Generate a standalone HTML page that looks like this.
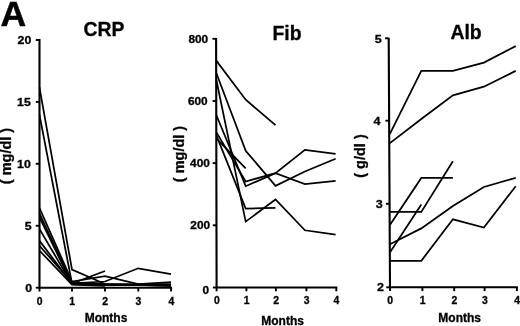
<!DOCTYPE html>
<html lang="en">
<head>
<meta charset="utf-8">
<title>Figure A: CRP, Fib, Alb over months</title>
<style>
html,body{margin:0;padding:0;background:#fff;}
body{width:520px;height:326px;overflow:hidden;}
svg{display:block;filter:blur(0.35px);}
text{font-family:"Liberation Sans",Arial,Helvetica,sans-serif;font-weight:bold;fill:#000;stroke:#000;stroke-width:0.3px;}
.ti{font-size:20.2px;}
.mo{font-size:12px;}
.yl{font-size:14.5px;}
.big{font-size:35.6px;stroke-width:0.5px;}
</style>
</head>
<body>
<svg width="520" height="326" viewBox="0 0 520 326">
<rect x="0" y="0" width="520" height="326" fill="#fff"/>
<text x="0.5" y="25.7" class="big">A</text>
<g>
<path d="M39.50,39.1 L39.50,287.7 H172.1" fill="none" stroke="#000" stroke-width="2.1" stroke-linejoin="miter"/>
<line x1="35.8" y1="287.7" x2="39.5" y2="287.7" stroke="#000" stroke-width="1.9"/>
<text transform="translate(32.2,291.8) scale(1.1,1)" text-anchor="end" font-size="11.2" class="tk">0</text>
<line x1="35.8" y1="225.8" x2="39.5" y2="225.8" stroke="#000" stroke-width="1.9"/>
<text transform="translate(31.7,229.9) scale(1.1,1)" text-anchor="end" font-size="11.2" class="tk">5</text>
<line x1="35.8" y1="163.8" x2="39.5" y2="163.8" stroke="#000" stroke-width="1.9"/>
<text transform="translate(30.8,168.0) scale(1.1,1)" text-anchor="end" font-size="11.2" class="tk">10</text>
<line x1="35.8" y1="101.9" x2="39.5" y2="101.9" stroke="#000" stroke-width="1.9"/>
<text transform="translate(30.8,106.1) scale(1.1,1)" text-anchor="end" font-size="11.2" class="tk">15</text>
<line x1="35.8" y1="40.0" x2="39.5" y2="40.0" stroke="#000" stroke-width="1.9"/>
<text transform="translate(31.3,44.1) scale(1.1,1)" text-anchor="end" font-size="11.2" class="tk">20</text>
<line x1="39.5" y1="287.7" x2="39.5" y2="291.5" stroke="#000" stroke-width="1.9"/>
<text x="39.7" y="304.7" text-anchor="middle" font-size="10.4" class="tk">0</text>
<line x1="72.0" y1="287.7" x2="72.0" y2="291.5" stroke="#000" stroke-width="1.9"/>
<text x="72.2" y="304.7" text-anchor="middle" font-size="10.4" class="tk">1</text>
<line x1="105.0" y1="287.7" x2="105.0" y2="291.5" stroke="#000" stroke-width="1.9"/>
<text x="105.2" y="304.7" text-anchor="middle" font-size="10.4" class="tk">2</text>
<line x1="138.3" y1="287.7" x2="138.3" y2="291.5" stroke="#000" stroke-width="1.9"/>
<text x="138.5" y="304.7" text-anchor="middle" font-size="10.4" class="tk">3</text>
<line x1="171.1" y1="287.7" x2="171.1" y2="291.5" stroke="#000" stroke-width="1.9"/>
<text x="171.3" y="304.7" text-anchor="middle" font-size="10.4" class="tk">4</text>
<polyline points="39.4,87.1 72.0,269.6 105.0,284.0 138.2,285.0 171.0,285.8" fill="none" stroke="#000" stroke-width="1.75" stroke-linejoin="miter" stroke-linecap="butt"/>
<polyline points="39.4,114.3 72.0,283.6 105.0,271.0" fill="none" stroke="#000" stroke-width="1.75" stroke-linejoin="miter" stroke-linecap="butt"/>
<polyline points="39.4,207.8 72.0,281.5 105.0,276.1 138.2,284.2 171.0,282.1" fill="none" stroke="#000" stroke-width="1.75" stroke-linejoin="miter" stroke-linecap="butt"/>
<polyline points="39.4,213.4 72.0,283.4 105.0,281.5 138.2,268.3 171.0,274.2" fill="none" stroke="#000" stroke-width="1.75" stroke-linejoin="miter" stroke-linecap="butt"/>
<polyline points="39.4,217.1 72.0,284.0 105.0,284.0 138.2,284.0 171.0,284.0" fill="none" stroke="#000" stroke-width="1.75" stroke-linejoin="miter" stroke-linecap="butt"/>
<polyline points="39.4,228.9 72.0,284.2 105.0,285.2 138.2,285.2 171.0,285.8" fill="none" stroke="#000" stroke-width="1.75" stroke-linejoin="miter" stroke-linecap="butt"/>
<polyline points="39.4,240.6 72.0,283.7 105.0,285.0 138.2,285.2" fill="none" stroke="#000" stroke-width="1.75" stroke-linejoin="miter" stroke-linecap="butt"/>
<polyline points="39.4,245.6 72.0,282.7 105.0,284.0" fill="none" stroke="#000" stroke-width="1.75" stroke-linejoin="miter" stroke-linecap="butt"/>
<polyline points="39.4,250.5 72.0,284.6 105.0,285.8" fill="none" stroke="#000" stroke-width="1.75" stroke-linejoin="miter" stroke-linecap="butt"/>
<text transform="translate(104.0,36.0) scale(0.96,1)" text-anchor="middle" class="ti">CRP</text>
<text x="106.0" y="322.0" text-anchor="middle" class="mo">Months</text>
<text transform="translate(11.3,156.0) rotate(-90)" text-anchor="middle" class="yl">( mg/dl )</text>
</g>
<g>
<path d="M216.10,37.9 L216.60,287.5 H337.3" fill="none" stroke="#000" stroke-width="2.1" stroke-linejoin="miter"/>
<line x1="212.9" y1="287.5" x2="216.6" y2="287.5" stroke="#000" stroke-width="1.9"/>
<text transform="translate(209.2,293.5) scale(1.1,1)" text-anchor="end" font-size="10.8" class="tk">0</text>
<line x1="212.8" y1="225.3" x2="216.5" y2="225.3" stroke="#000" stroke-width="1.9"/>
<text transform="translate(210.1,228.5) scale(1.1,1)" text-anchor="end" font-size="10.8" class="tk">200</text>
<line x1="212.7" y1="163.1" x2="216.3" y2="163.1" stroke="#000" stroke-width="1.9"/>
<text transform="translate(209.9,167.1) scale(1.1,1)" text-anchor="end" font-size="10.8" class="tk">400</text>
<line x1="212.5" y1="101.0" x2="216.2" y2="101.0" stroke="#000" stroke-width="1.9"/>
<text transform="translate(207.7,105.0) scale(1.1,1)" text-anchor="end" font-size="10.8" class="tk">600</text>
<line x1="212.4" y1="38.8" x2="216.1" y2="38.8" stroke="#000" stroke-width="1.9"/>
<text transform="translate(208.2,42.8) scale(1.1,1)" text-anchor="end" font-size="10.8" class="tk">800</text>
<line x1="216.6" y1="287.5" x2="216.6" y2="291.3" stroke="#000" stroke-width="1.9"/>
<text x="216.8" y="303.9" text-anchor="middle" font-size="10.4" class="tk">0</text>
<line x1="246.4" y1="287.5" x2="246.4" y2="291.3" stroke="#000" stroke-width="1.9"/>
<text x="246.6" y="303.9" text-anchor="middle" font-size="10.4" class="tk">1</text>
<line x1="275.9" y1="287.5" x2="275.9" y2="291.3" stroke="#000" stroke-width="1.9"/>
<text x="276.1" y="303.9" text-anchor="middle" font-size="10.4" class="tk">2</text>
<line x1="306.4" y1="287.5" x2="306.4" y2="291.3" stroke="#000" stroke-width="1.9"/>
<text x="306.6" y="303.9" text-anchor="middle" font-size="10.4" class="tk">3</text>
<line x1="336.3" y1="287.5" x2="336.3" y2="291.3" stroke="#000" stroke-width="1.9"/>
<text x="336.5" y="303.9" text-anchor="middle" font-size="10.4" class="tk">4</text>
<polyline points="216.3,60.6 245.7,99.7 275.5,125.2" fill="none" stroke="#000" stroke-width="1.75" stroke-linejoin="miter" stroke-linecap="butt"/>
<polyline points="216.3,73.0 245.7,150.7 275.5,185.8 304.9,171.5 335.6,158.8" fill="none" stroke="#000" stroke-width="1.75" stroke-linejoin="miter" stroke-linecap="butt"/>
<polyline points="216.3,79.8 245.7,221.6 275.5,199.5 304.9,230.3 335.6,234.7" fill="none" stroke="#000" stroke-width="1.75" stroke-linejoin="miter" stroke-linecap="butt"/>
<polyline points="216.3,115.0 245.7,186.2 275.5,173.1 304.9,184.0 335.6,180.9" fill="none" stroke="#000" stroke-width="1.75" stroke-linejoin="miter" stroke-linecap="butt"/>
<polyline points="216.3,132.1 245.7,181.5 275.5,173.1 304.9,149.8 335.6,153.8" fill="none" stroke="#000" stroke-width="1.75" stroke-linejoin="miter" stroke-linecap="butt"/>
<polyline points="216.3,135.2 245.7,208.5 275.5,207.9" fill="none" stroke="#000" stroke-width="1.75" stroke-linejoin="miter" stroke-linecap="butt"/>
<polyline points="216.3,138.3 245.7,168.4" fill="none" stroke="#000" stroke-width="1.75" stroke-linejoin="miter" stroke-linecap="butt"/>
<text transform="translate(287.0,40.4) scale(0.96,1)" text-anchor="middle" class="ti">Fib</text>
<text x="282.6" y="325.0" text-anchor="middle" class="mo">Months</text>
<text transform="translate(184.3,154.0) rotate(-90)" text-anchor="middle" class="yl">( mg/dl )</text>
</g>
<g>
<path d="M388.70,37.7 L390.00,287.3 H517.9" fill="none" stroke="#000" stroke-width="2.1" stroke-linejoin="miter"/>
<line x1="386.3" y1="287.3" x2="390.0" y2="287.3" stroke="#000" stroke-width="1.9"/>
<text transform="translate(384.0,290.7) scale(1.1,1)" text-anchor="end" font-size="11.4" class="tk">2</text>
<line x1="385.9" y1="203.8" x2="389.6" y2="203.8" stroke="#000" stroke-width="1.9"/>
<text transform="translate(382.8,208.0) scale(1.1,1)" text-anchor="end" font-size="11.4" class="tk">3</text>
<line x1="385.4" y1="120.7" x2="389.1" y2="120.7" stroke="#000" stroke-width="1.9"/>
<text transform="translate(380.5,124.7) scale(1.1,1)" text-anchor="end" font-size="11.4" class="tk">4</text>
<line x1="385.0" y1="38.3" x2="388.7" y2="38.3" stroke="#000" stroke-width="1.9"/>
<text transform="translate(381.8,43.2) scale(1.1,1)" text-anchor="end" font-size="11.4" class="tk">5</text>
<line x1="390.0" y1="287.3" x2="390.0" y2="291.1" stroke="#000" stroke-width="1.9"/>
<text x="390.2" y="303.7" text-anchor="middle" font-size="10.4" class="tk">0</text>
<line x1="422.4" y1="287.3" x2="422.4" y2="291.1" stroke="#000" stroke-width="1.9"/>
<text x="422.6" y="303.7" text-anchor="middle" font-size="10.4" class="tk">1</text>
<line x1="454.2" y1="287.3" x2="454.2" y2="291.1" stroke="#000" stroke-width="1.9"/>
<text x="454.4" y="303.7" text-anchor="middle" font-size="10.4" class="tk">2</text>
<line x1="484.6" y1="287.3" x2="484.6" y2="291.1" stroke="#000" stroke-width="1.9"/>
<text x="484.8" y="303.7" text-anchor="middle" font-size="10.4" class="tk">3</text>
<line x1="516.9" y1="287.3" x2="516.9" y2="291.1" stroke="#000" stroke-width="1.9"/>
<text x="517.1" y="303.7" text-anchor="middle" font-size="10.4" class="tk">4</text>
<polyline points="389.9,133.9 421.3,70.9 452.9,70.9 483.9,62.6 515.7,46.1" fill="none" stroke="#000" stroke-width="1.75" stroke-linejoin="miter" stroke-linecap="butt"/>
<polyline points="389.9,143.1 421.3,119.0 452.9,95.4 483.9,86.7 515.7,70.9" fill="none" stroke="#000" stroke-width="1.75" stroke-linejoin="miter" stroke-linecap="butt"/>
<polyline points="389.9,225.1 421.3,177.9 452.9,177.9" fill="none" stroke="#000" stroke-width="1.75" stroke-linejoin="miter" stroke-linecap="butt"/>
<polyline points="389.9,211.9 421.3,211.9 452.9,161.3" fill="none" stroke="#000" stroke-width="1.75" stroke-linejoin="miter" stroke-linecap="butt"/>
<polyline points="389.9,252.5 421.3,204.4" fill="none" stroke="#000" stroke-width="1.75" stroke-linejoin="miter" stroke-linecap="butt"/>
<polyline points="389.9,244.2 421.3,228.4 452.9,206.1 483.9,187.0 515.7,177.9" fill="none" stroke="#000" stroke-width="1.75" stroke-linejoin="miter" stroke-linecap="butt"/>
<polyline points="389.9,260.8 421.3,260.8 452.9,219.3 483.9,227.6 515.7,186.2" fill="none" stroke="#000" stroke-width="1.75" stroke-linejoin="miter" stroke-linecap="butt"/>
<text transform="translate(466.0,39.4) scale(0.96,1)" text-anchor="middle" class="ti">Alb</text>
<text x="459.7" y="322.0" text-anchor="middle" class="mo">Months</text>
<text transform="translate(365.2,156.0) rotate(-90)" text-anchor="middle" class="yl">( g/dl )</text>
</g>
</svg>
</body>
</html>
